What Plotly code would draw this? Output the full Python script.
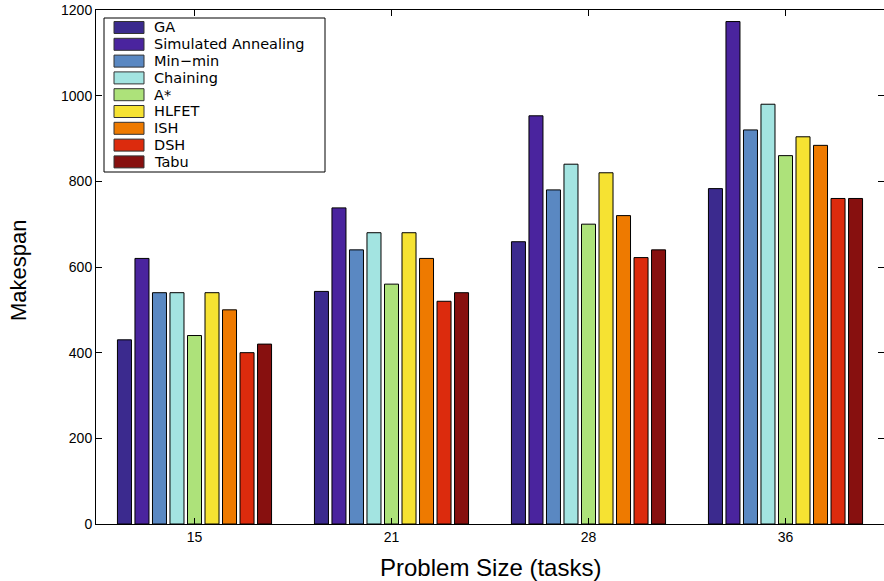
import plotly.graph_objects as go

categories = ["15", "21", "28", "36"]
series_names = ["GA", "Simulated Annealing", "Min\u2212min", "Chaining", "A*", "HLFET", "ISH", "DSH", "Tabu"]
ga = [430, 543, 659, 783]
simulated_annealing = [620, 738, 953, 1173]
min_min = [540, 640, 780, 920]
chaining = [540, 680, 840, 980]
a_star = [440, 560, 700, 860]
hlfet = [540, 680, 820, 904]
ish = [500, 620, 720, 884]
dsh = [400, 520, 622, 760]
tabu = [420, 540, 640, 760]
series_values = [ga, simulated_annealing, min_min, chaining, a_star, hlfet, ish, dsh, tabu]
colors = ["#3b2a8e", "#4a249e", "#5a88c2", "#a3e4e1", "#ade27a", "#f6e232", "#ee7a00", "#dc2b0d", "#87100f"]
y_ticks = [0, 200, 400, 600, 800, 1000, 1200]

W, H = 884, 581
L, R, T, B = 96, 0, 10, 57
PW, PH = W - L - R, H - T - B


def px(x):
    return (x - L) / PW


def py(y):
    return (H - B - y) / PH


fig = go.Figure()
for name, vals, col in zip(series_names, series_values, colors):
    fig.add_trace(go.Bar(x=categories, y=vals, name=name, showlegend=False,
                         marker=dict(color=col, line=dict(color="black", width=1))))

font = "Liberation Sans, Arial, sans-serif"
shapes = []
annotations = []

# legend box (built from the series names/colours)
shapes.append(dict(type="rect", xref="paper", yref="paper", x0=px(104), x1=px(325),
                   y0=py(172), y1=py(18), line=dict(color="black", width=1),
                   fillcolor="white", layer="above"))
for i, (name, col) in enumerate(zip(series_names, colors)):
    cy = 27.5 + 16.8 * i
    shapes.append(dict(type="rect", xref="paper", yref="paper", x0=px(114), x1=px(144),
                       y0=py(cy + 6), y1=py(cy - 6), fillcolor=col,
                       line=dict(color="#333333", width=1), layer="above"))
    annotations.append(dict(xref="paper", yref="paper", x=px(152), y=py(cy), text=name,
                            showarrow=False, xanchor="left", yanchor="middle",
                            font=dict(family="DejaVu Sans, sans-serif", size=14.5, color="black")))

annotations.append(dict(xref="paper", yref="paper", x=px(490), y=py(567), text="Problem Size (tasks)",
                        showarrow=False, xanchor="center", yanchor="middle",
                        font=dict(family=font, size=24, color="black")))
annotations.append(dict(xref="paper", yref="paper", x=px(18), y=py(270), text="Makespan",
                        showarrow=False, xanchor="center", yanchor="middle", textangle=-90,
                        font=dict(family=font, size=22, color="black")))

fig.update_layout(
    width=W, height=H,
    margin=dict(l=L, r=R, t=T, b=B),
    paper_bgcolor="white", plot_bgcolor="white",
    barmode="group", bargap=0.2, bargroupgap=0.2,
    font=dict(family=font, size=14, color="black"),
    showlegend=False,
    shapes=shapes, annotations=annotations,
    xaxis=dict(type="category", range=[-0.5, 3.5], showline=True, linecolor="black",
               linewidth=1, mirror="ticks", ticks="inside", ticklen=6, tickcolor="black",
               tickfont=dict(size=14), showgrid=False, automargin=False),
    yaxis=dict(range=[0, 1200], tickvals=y_ticks, showline=True, linecolor="black",
               linewidth=1, mirror="ticks", ticks="inside", ticklen=6, tickcolor="black",
               tickfont=dict(size=14), showgrid=False, zeroline=False, automargin=False),
)
fig.write_html("out.html", config={"displayModeBar": False},
               post_script="document.body.style.margin='0';document.body.style.overflow='hidden';")
